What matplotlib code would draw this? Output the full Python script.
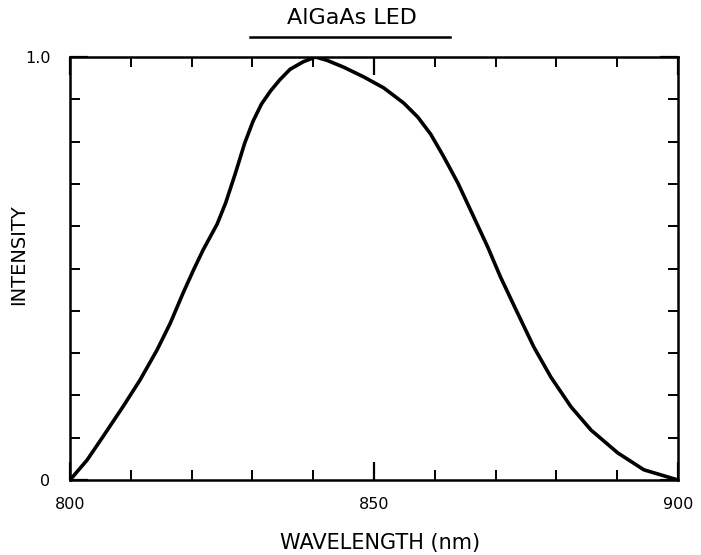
import numpy as np
import matplotlib
matplotlib.use("Agg")
import matplotlib.pyplot as plt
from matplotlib.lines import Line2D

# Spectre d'émission normalisé de la LED AlGaAs
wavelength_nm = [800, 802.8, 805.4, 808.7, 811.5, 814.3, 816.5, 818.6, 820.3, 821.9,
                 824.2, 825.6, 827.2, 828.7, 830.1, 831.5, 833, 834.5, 836.2, 838.4,
                 840.4, 842.3, 845, 848.3, 851.6, 854.9, 857.2, 859.3, 861.4, 863.8,
                 866.4, 868.7, 870.8, 873.6, 876.3, 879.1, 882.4, 885.7, 890.1, 894.4, 900]
intensity = [0, 0.047, 0.102, 0.173, 0.236, 0.307, 0.371, 0.442, 0.496, 0.544,
             0.605, 0.655, 0.725, 0.795, 0.848, 0.889, 0.92, 0.946, 0.971, 0.989,
             1.0, 0.992, 0.976, 0.953, 0.927, 0.891, 0.858, 0.818, 0.766, 0.702,
             0.622, 0.551, 0.48, 0.395, 0.314, 0.243, 0.173, 0.118, 0.064, 0.024, 0]

x_ticks = [800, 850, 900]
x_labels = ["800", "850", "900"]
y_ticks = [0, 1.0]
y_labels = ["0", "1.0"]

plt.rcParams['font.family'] = ['DejaVu Sans']

W, H = 701, 555
fig = plt.figure(figsize=(W / 100, H / 100), dpi=100)
ax = fig.add_axes([70 / W, 1 - 480 / H, 608 / W, 423 / H])

ax.plot(wavelength_nm, intensity, color='black', linewidth=2.6,
        solid_capstyle='round', solid_joinstyle='round')

ax.set_xlim(800, 900)
ax.set_ylim(0, 1.0)

ax.set_xticks(x_ticks)
ax.set_xticklabels(x_labels)
ax.set_xticks(np.arange(810, 900, 10), minor=True)
ax.set_yticks(y_ticks)
ax.set_yticklabels(y_labels)
ax.set_yticks(np.arange(0.1, 1.0, 0.1), minor=True)

ax.tick_params(which='both', direction='in', top=True, right=True, color='black')
ax.tick_params(which='major', length=13, width=1.6, labelsize=11.5, pad=12)
ax.tick_params(which='minor', length=7, width=1.4)
ax.tick_params(axis='y', which='major', pad=14)

for spine in ax.spines.values():
    spine.set_linewidth(1.8)

# titres des axes placés à la main
fig.text(380 / W, 1 - 543 / H, 'WAVELENGTH (nm)', ha='center', va='center', fontsize=15)
fig.text(19 / W, 1 - 255 / H, 'INTENSITY', ha='center', va='center',
         rotation=90, fontsize=14)

fig.text(352 / W, 1 - 18 / H, 'AlGaAs LED', ha='center', va='center', fontsize=16)
fig.add_artist(Line2D([250 / W, 450 / W], [1 - 37 / H, 1 - 37 / H],
                      transform=fig.transFigure, color='black', linewidth=1.8))

fig.savefig('out.png', dpi=100, facecolor='white')
